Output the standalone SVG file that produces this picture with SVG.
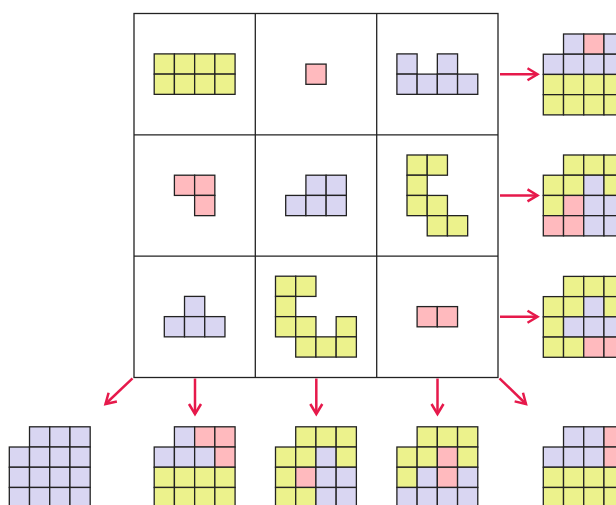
<svg xmlns="http://www.w3.org/2000/svg" width="616" height="505" viewBox="0 0 616 505">
<defs>
<style>
.c rect{stroke:#222;stroke-width:1.3}
.y{fill:#ecf28c}
.l{fill:#d9d6f2}
.p{fill:#ffbabe}
.grid{fill:none;stroke:#222;stroke-width:1.3}
.arr{stroke:#e6194b;stroke-width:2.5;fill:none;marker-end:url(#ah)}
</style>
<marker id="ah" markerUnits="userSpaceOnUse" markerWidth="20" markerHeight="20" refX="0" refY="0" viewBox="-12 -10 14 20" orient="auto" overflow="visible">
<path d="M-10,-6 L0,0 L-10,6" fill="none" stroke="#e6194b" stroke-width="2.5"/>
</marker>
</defs>
<rect width="616" height="505" style="fill:#fff;stroke:none"/>
<g id="grid">
<rect class="grid" x="134" y="13.5" width="364" height="364"/>
<line class="grid" x1="255.3" y1="13.5" x2="255.3" y2="377.5"/>
<line class="grid" x1="376.7" y1="13.5" x2="376.7" y2="377.5"/>
<line class="grid" x1="134" y1="134.8" x2="498" y2="134.8"/>
<line class="grid" x1="134" y1="256.2" x2="498" y2="256.2"/>
</g>
<g id="cell-0-0" class="c" transform="translate(154.2,53.9)">
<rect class="y" x="0" y="0" width="20.22" height="20.22"/><rect class="y" x="20.22" y="0" width="20.22" height="20.22"/><rect class="y" x="40.44" y="0" width="20.22" height="20.22"/><rect class="y" x="60.66" y="0" width="20.22" height="20.22"/>
<rect class="y" x="0" y="20.22" width="20.22" height="20.22"/><rect class="y" x="20.22" y="20.22" width="20.22" height="20.22"/><rect class="y" x="40.44" y="20.22" width="20.22" height="20.22"/><rect class="y" x="60.66" y="20.22" width="20.22" height="20.22"/>
</g>
<g id="cell-0-1" class="c" transform="translate(305.9,64.1)">
<rect class="p" x="0" y="0" width="20.22" height="20.22"/>
</g>
<g id="cell-0-2" class="c" transform="translate(396.9,53.9)">
<rect class="l" x="0" y="0" width="20.22" height="20.22"/><rect class="l" x="40.44" y="0" width="20.22" height="20.22"/>
<rect class="l" x="0" y="20.22" width="20.22" height="20.22"/><rect class="l" x="20.22" y="20.22" width="20.22" height="20.22"/><rect class="l" x="40.44" y="20.22" width="20.22" height="20.22"/><rect class="l" x="60.66" y="20.22" width="20.22" height="20.22"/>
</g>
<g id="cell-1-0" class="c" transform="translate(174.4,175.2)">
<rect class="p" x="0" y="0" width="20.22" height="20.22"/><rect class="p" x="20.22" y="0" width="20.22" height="20.22"/>
<rect class="p" x="20.22" y="20.22" width="20.22" height="20.22"/>
</g>
<g id="cell-1-1" class="c" transform="translate(285.7,175.2)">
<rect class="l" x="20.22" y="0" width="20.22" height="20.22"/><rect class="l" x="40.44" y="0" width="20.22" height="20.22"/>
<rect class="l" x="0" y="20.22" width="20.22" height="20.22"/><rect class="l" x="20.22" y="20.22" width="20.22" height="20.22"/><rect class="l" x="40.44" y="20.22" width="20.22" height="20.22"/>
</g>
<g id="cell-1-2" class="c" transform="translate(407,155)">
<rect class="y" x="0" y="0" width="20.22" height="20.22"/><rect class="y" x="20.22" y="0" width="20.22" height="20.22"/>
<rect class="y" x="0" y="20.22" width="20.22" height="20.22"/>
<rect class="y" x="0" y="40.44" width="20.22" height="20.22"/><rect class="y" x="20.22" y="40.44" width="20.22" height="20.22"/>
<rect class="y" x="20.22" y="60.66" width="20.22" height="20.22"/><rect class="y" x="40.44" y="60.66" width="20.22" height="20.22"/>
</g>
<g id="cell-2-0" class="c" transform="translate(164.3,296.4)">
<rect class="l" x="20.22" y="0" width="20.22" height="20.22"/>
<rect class="l" x="0" y="20.22" width="20.22" height="20.22"/><rect class="l" x="20.22" y="20.22" width="20.22" height="20.22"/><rect class="l" x="40.44" y="20.22" width="20.22" height="20.22"/>
</g>
<g id="cell-2-1" class="c" transform="translate(275.5,276.2)">
<rect class="y" x="0" y="0" width="20.22" height="20.22"/><rect class="y" x="20.22" y="0" width="20.22" height="20.22"/>
<rect class="y" x="0" y="20.22" width="20.22" height="20.22"/>
<rect class="y" x="0" y="40.44" width="20.22" height="20.22"/><rect class="y" x="20.22" y="40.44" width="20.22" height="20.22"/><rect class="y" x="60.66" y="40.44" width="20.22" height="20.22"/>
<rect class="y" x="20.22" y="60.66" width="20.22" height="20.22"/><rect class="y" x="40.44" y="60.66" width="20.22" height="20.22"/><rect class="y" x="60.66" y="60.66" width="20.22" height="20.22"/>
</g>
<g id="cell-2-2" class="c" transform="translate(417.1,306.6)">
<rect class="p" x="0" y="0" width="20.22" height="20.22"/><rect class="p" x="20.22" y="0" width="20.22" height="20.22"/>
</g>
<g id="connectors">
<line class="arr" x1="500" y1="74.3" x2="537.5" y2="74.3"/>
<line class="arr" x1="500" y1="195.4" x2="537.5" y2="195.4"/>
<line class="arr" x1="500" y1="316.8" x2="537.5" y2="316.8"/>
<line class="arr" x1="132.5" y1="378.3" x2="105.5" y2="404"/>
<line class="arr" x1="195" y1="378.5" x2="195" y2="414"/>
<line class="arr" x1="316.3" y1="378.5" x2="316.3" y2="414"/>
<line class="arr" x1="437.5" y1="378.5" x2="437.5" y2="414"/>
<line class="arr" x1="499.5" y1="378.3" x2="526" y2="404"/>
</g>
<g id="out-r1" class="c" transform="translate(543.3,34)">
<rect class="l" x="20.22" y="0" width="20.22" height="20.22"/><rect class="p" x="40.44" y="0" width="20.22" height="20.22"/><rect class="l" x="60.66" y="0" width="20.22" height="20.22"/>
<rect class="l" x="0" y="20.22" width="20.22" height="20.22"/><rect class="l" x="20.22" y="20.22" width="20.22" height="20.22"/><rect class="l" x="40.44" y="20.22" width="20.22" height="20.22"/><rect class="l" x="60.66" y="20.22" width="20.22" height="20.22"/>
<rect class="y" x="0" y="40.44" width="20.22" height="20.22"/><rect class="y" x="20.22" y="40.44" width="20.22" height="20.22"/><rect class="y" x="40.44" y="40.44" width="20.22" height="20.22"/><rect class="y" x="60.66" y="40.44" width="20.22" height="20.22"/>
<rect class="y" x="0" y="60.66" width="20.22" height="20.22"/><rect class="y" x="20.22" y="60.66" width="20.22" height="20.22"/><rect class="y" x="40.44" y="60.66" width="20.22" height="20.22"/><rect class="y" x="60.66" y="60.66" width="20.22" height="20.22"/>
</g>
<g id="out-r2" class="c" transform="translate(543.3,155)">
<rect class="y" x="20.22" y="0" width="20.22" height="20.22"/><rect class="y" x="40.44" y="0" width="20.22" height="20.22"/><rect class="y" x="60.66" y="0" width="20.22" height="20.22"/>
<rect class="y" x="0" y="20.22" width="20.22" height="20.22"/><rect class="y" x="20.22" y="20.22" width="20.22" height="20.22"/><rect class="l" x="40.44" y="20.22" width="20.22" height="20.22"/><rect class="y" x="60.66" y="20.22" width="20.22" height="20.22"/>
<rect class="y" x="0" y="40.44" width="20.22" height="20.22"/><rect class="p" x="20.22" y="40.44" width="20.22" height="20.22"/><rect class="l" x="40.44" y="40.44" width="20.22" height="20.22"/><rect class="l" x="60.66" y="40.44" width="20.22" height="20.22"/>
<rect class="p" x="0" y="60.66" width="20.22" height="20.22"/><rect class="p" x="20.22" y="60.66" width="20.22" height="20.22"/><rect class="l" x="40.44" y="60.66" width="20.22" height="20.22"/><rect class="l" x="60.66" y="60.66" width="20.22" height="20.22"/>
</g>
<g id="out-r3" class="c" transform="translate(543.3,276.4)">
<rect class="y" x="20.22" y="0" width="20.22" height="20.22"/><rect class="y" x="40.44" y="0" width="20.22" height="20.22"/><rect class="y" x="60.66" y="0" width="20.22" height="20.22"/>
<rect class="y" x="0" y="20.22" width="20.22" height="20.22"/><rect class="y" x="20.22" y="20.22" width="20.22" height="20.22"/><rect class="l" x="40.44" y="20.22" width="20.22" height="20.22"/><rect class="y" x="60.66" y="20.22" width="20.22" height="20.22"/>
<rect class="y" x="0" y="40.44" width="20.22" height="20.22"/><rect class="l" x="20.22" y="40.44" width="20.22" height="20.22"/><rect class="l" x="40.44" y="40.44" width="20.22" height="20.22"/><rect class="l" x="60.66" y="40.44" width="20.22" height="20.22"/>
<rect class="y" x="0" y="60.66" width="20.22" height="20.22"/><rect class="y" x="20.22" y="60.66" width="20.22" height="20.22"/><rect class="p" x="40.44" y="60.66" width="20.22" height="20.22"/><rect class="p" x="60.66" y="60.66" width="20.22" height="20.22"/>
</g>
<g id="out-b1" class="c" transform="translate(9.3,426.8)">
<rect class="l" x="20.22" y="0" width="20.22" height="20.22"/><rect class="l" x="40.44" y="0" width="20.22" height="20.22"/><rect class="l" x="60.66" y="0" width="20.22" height="20.22"/>
<rect class="l" x="0" y="20.22" width="20.22" height="20.22"/><rect class="l" x="20.22" y="20.22" width="20.22" height="20.22"/><rect class="l" x="40.44" y="20.22" width="20.22" height="20.22"/><rect class="l" x="60.66" y="20.22" width="20.22" height="20.22"/>
<rect class="l" x="0" y="40.44" width="20.22" height="20.22"/><rect class="l" x="20.22" y="40.44" width="20.22" height="20.22"/><rect class="l" x="40.44" y="40.44" width="20.22" height="20.22"/><rect class="l" x="60.66" y="40.44" width="20.22" height="20.22"/>
<rect class="l" x="0" y="60.66" width="20.22" height="20.22"/><rect class="l" x="20.22" y="60.66" width="20.22" height="20.22"/><rect class="l" x="40.44" y="60.66" width="20.22" height="20.22"/><rect class="l" x="60.66" y="60.66" width="20.22" height="20.22"/>
</g>
<g id="out-b2" class="c" transform="translate(154.2,426.8)">
<rect class="l" x="20.22" y="0" width="20.22" height="20.22"/><rect class="p" x="40.44" y="0" width="20.22" height="20.22"/><rect class="p" x="60.66" y="0" width="20.22" height="20.22"/>
<rect class="l" x="0" y="20.22" width="20.22" height="20.22"/><rect class="l" x="20.22" y="20.22" width="20.22" height="20.22"/><rect class="l" x="40.44" y="20.22" width="20.22" height="20.22"/><rect class="p" x="60.66" y="20.22" width="20.22" height="20.22"/>
<rect class="y" x="0" y="40.44" width="20.22" height="20.22"/><rect class="y" x="20.22" y="40.44" width="20.22" height="20.22"/><rect class="y" x="40.44" y="40.44" width="20.22" height="20.22"/><rect class="y" x="60.66" y="40.44" width="20.22" height="20.22"/>
<rect class="y" x="0" y="60.66" width="20.22" height="20.22"/><rect class="y" x="20.22" y="60.66" width="20.22" height="20.22"/><rect class="y" x="40.44" y="60.66" width="20.22" height="20.22"/><rect class="y" x="60.66" y="60.66" width="20.22" height="20.22"/>
</g>
<g id="out-b3" class="c" transform="translate(275.5,426.8)">
<rect class="y" x="20.22" y="0" width="20.22" height="20.22"/><rect class="y" x="40.44" y="0" width="20.22" height="20.22"/><rect class="y" x="60.66" y="0" width="20.22" height="20.22"/>
<rect class="y" x="0" y="20.22" width="20.22" height="20.22"/><rect class="y" x="20.22" y="20.22" width="20.22" height="20.22"/><rect class="l" x="40.44" y="20.22" width="20.22" height="20.22"/><rect class="y" x="60.66" y="20.22" width="20.22" height="20.22"/>
<rect class="y" x="0" y="40.44" width="20.22" height="20.22"/><rect class="p" x="20.22" y="40.44" width="20.22" height="20.22"/><rect class="l" x="40.44" y="40.44" width="20.22" height="20.22"/><rect class="l" x="60.66" y="40.44" width="20.22" height="20.22"/>
<rect class="y" x="0" y="60.66" width="20.22" height="20.22"/><rect class="y" x="20.22" y="60.66" width="20.22" height="20.22"/><rect class="l" x="40.44" y="60.66" width="20.22" height="20.22"/><rect class="l" x="60.66" y="60.66" width="20.22" height="20.22"/>
</g>
<g id="out-b4" class="c" transform="translate(396.9,426.8)">
<rect class="y" x="20.22" y="0" width="20.22" height="20.22"/><rect class="y" x="40.44" y="0" width="20.22" height="20.22"/><rect class="y" x="60.66" y="0" width="20.22" height="20.22"/>
<rect class="y" x="0" y="20.22" width="20.22" height="20.22"/><rect class="y" x="20.22" y="20.22" width="20.22" height="20.22"/><rect class="p" x="40.44" y="20.22" width="20.22" height="20.22"/><rect class="y" x="60.66" y="20.22" width="20.22" height="20.22"/>
<rect class="y" x="0" y="40.44" width="20.22" height="20.22"/><rect class="l" x="20.22" y="40.44" width="20.22" height="20.22"/><rect class="p" x="40.44" y="40.44" width="20.22" height="20.22"/><rect class="l" x="60.66" y="40.44" width="20.22" height="20.22"/>
<rect class="l" x="0" y="60.66" width="20.22" height="20.22"/><rect class="l" x="20.22" y="60.66" width="20.22" height="20.22"/><rect class="l" x="40.44" y="60.66" width="20.22" height="20.22"/><rect class="l" x="60.66" y="60.66" width="20.22" height="20.22"/>
</g>
<g id="out-b5" class="c" transform="translate(543.3,426.8)">
<rect class="l" x="20.22" y="0" width="20.22" height="20.22"/><rect class="l" x="40.44" y="0" width="20.22" height="20.22"/><rect class="p" x="60.66" y="0" width="20.22" height="20.22"/>
<rect class="l" x="0" y="20.22" width="20.22" height="20.22"/><rect class="l" x="20.22" y="20.22" width="20.22" height="20.22"/><rect class="l" x="40.44" y="20.22" width="20.22" height="20.22"/><rect class="p" x="60.66" y="20.22" width="20.22" height="20.22"/>
<rect class="y" x="0" y="40.44" width="20.22" height="20.22"/><rect class="y" x="20.22" y="40.44" width="20.22" height="20.22"/><rect class="y" x="40.44" y="40.44" width="20.22" height="20.22"/><rect class="y" x="60.66" y="40.44" width="20.22" height="20.22"/>
<rect class="y" x="0" y="60.66" width="20.22" height="20.22"/><rect class="y" x="20.22" y="60.66" width="20.22" height="20.22"/><rect class="y" x="40.44" y="60.66" width="20.22" height="20.22"/><rect class="y" x="60.66" y="60.66" width="20.22" height="20.22"/>
</g>
</svg>
